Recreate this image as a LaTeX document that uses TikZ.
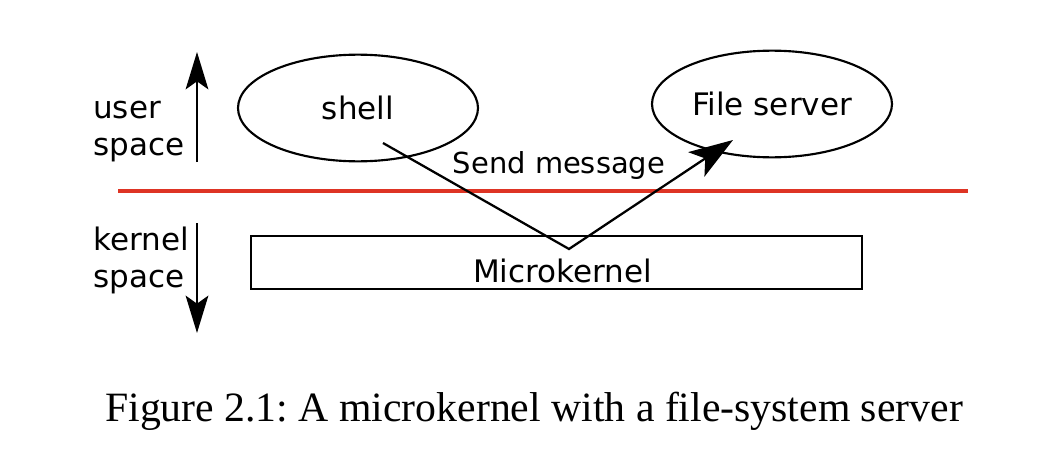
\documentclass[tikz,border=0pt]{standalone}
\usepackage{fontspec}
\setmainfont{DejaVu Sans}
\newfontfamily\capfont{Liberation Serif}
\usetikzlibrary{shapes.geometric,arrows.meta}
\definecolor{sepred}{RGB}{222,52,36}
\frenchspacing
\begin{document}
\begin{tikzpicture}[x=0.75pt,y=-0.75pt,
  lbl/.style={font=\fontsize{23.25pt}{28pt}\selectfont,inner sep=0pt},
  proc/.style={draw,ellipse,line width=1.6pt,minimum width=180pt,minimum height=80pt,inner sep=0pt,font=\fontsize{23.25pt}{28pt}\selectfont},
  bigtip/.style={-{Stealth[length=28pt,width=17pt,inset=6pt]}},
  conn/.style={line width=1.7pt}]
\useasboundingbox (0,0) rectangle (1042,464);
% separator
\coordinate (r1) at (118,191);
\coordinate (r2) at (968,191);
\draw[sepred,line width=3.2pt] (r1) -- (r2);
% side labels
\node[lbl,anchor=base west] (user) at (93,118) {user};
\node[lbl,anchor=base west] (uspace) at (93,155) {space};
\node[lbl,anchor=base west] (kernel) at (93,250) {kernel};
\node[lbl,anchor=base west] (kspace) at (93,287) {space};
% direction arrows
\coordinate (ua0) at (197,162);
\coordinate (ua1) at (197,52);
\coordinate (da0) at (197,223);
\coordinate (da1) at (197,333);
\draw[conn,bigtip] (ua0) -- (ua1);
\draw[conn,bigtip] (da0) -- (da1);
% processes
\node[proc] (shell) at (358,108) {shell};
\node[proc] (fs) at (772,104) {File server};
% microkernel box
\node[draw,line width=1.6pt,minimum width=458pt,minimum height=40pt,inner sep=0pt] (mk) at (556.5,262.5) {};
\node[lbl,anchor=base] (mktext) at (562.5,282) {Microkernel};
% message path
\coordinate (s) at (383,143);
\coordinate (v) at (569,249);
\coordinate (t) at (733,140);
\draw[conn,-{Stealth[length=33pt,width=22pt,inset=8pt]}] (s) -- (v) -- (t);
\node[font=\fontsize{21.7pt}{26pt}\selectfont,inner sep=0pt,anchor=base] (msg) at (559,173) {Send message};
% caption
\node[font=\capfont\fontsize{31.3pt}{38pt}\selectfont,inner sep=0pt,anchor=base] (cap) at (534,421) {Figure 2.1: A microkernel with a file-system server};
\end{tikzpicture}
\end{document}
